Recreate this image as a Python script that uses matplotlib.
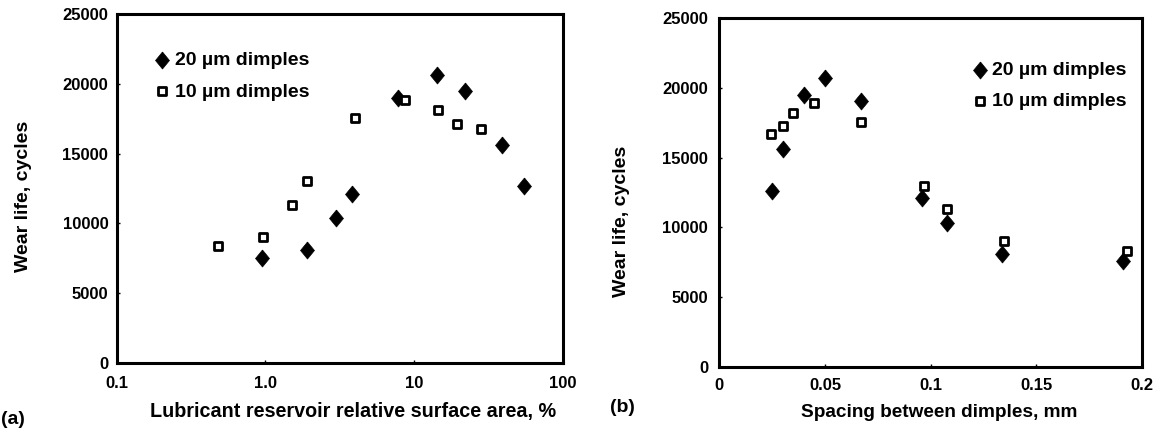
import matplotlib
matplotlib.use("Agg")
import matplotlib.pyplot as plt
from matplotlib.ticker import FixedLocator, FixedFormatter, NullLocator

plt.rcParams['font.family'] = ['Liberation Sans', 'DejaVu Sans']

# panel (a): relative surface area (%) vs wear life
area_20 = [0.95, 1.9, 3.0, 3.8, 7.8, 14.2, 22, 39, 55]
life_a_20 = [7500, 8100, 10400, 12100, 19000, 20600, 19500, 15600, 12700]
area_10 = [0.48, 0.97, 1.5, 1.9, 4.0, 8.7, 14.5, 19.5, 28]
life_a_10 = [8400, 9000, 11300, 13050, 17550, 18850, 18150, 17150, 16750]

# panel (b): spacing (mm) vs wear life
spacing_20 = [0.025, 0.030, 0.040, 0.050, 0.067, 0.096, 0.108, 0.134, 0.191]
life_b_20 = [12600, 15600, 19500, 20700, 19050, 12100, 10300, 8100, 7550]
spacing_10 = [0.0245, 0.030, 0.035, 0.045, 0.067, 0.097, 0.108, 0.135, 0.193]
life_b_10 = [16700, 17250, 18200, 18900, 17550, 13000, 11300, 9000, 8300]

y_ticks = [0, 5000, 10000, 15000, 20000, 25000]
xa_ticks = [0.1, 1.0, 10, 100]
xa_labels = ["0.1", "1.0", "10", "100"]
xb_ticks = [0, 0.05, 0.1, 0.15, 0.2]
xb_labels = ["0", "0.05", "0.1", "0.15", "0.2"]

# slightly tall diamond, like the printed one
diamond = [(0, 1), (0.82, 0), (0, -1), (-0.82, 0), (0, 1)]

fig = plt.figure(figsize=(11.61, 4.32), dpi=100)
ax1 = fig.add_axes([0.1005, 0.1597, 0.3842, 0.808])
ax2 = fig.add_axes([0.6196, 0.1512, 0.3638, 0.8065])


def style(ax, ypad, xpad):
    for s in ax.spines.values():
        s.set_linewidth(2.2)
    ax.set_ylim(0, 25000)
    ax.yaxis.set_major_locator(FixedLocator(y_ticks))
    ax.tick_params(direction='in', length=2, width=1, labelsize=12)
    ax.tick_params(axis='y', pad=ypad)
    ax.tick_params(axis='x', pad=xpad)
    for t in ax.get_xticklabels() + ax.get_yticklabels():
        t.set_fontweight('bold')


def draw(ax, x20, y20, x10, y10, anchor, spacing, textpad):
    ax.scatter(x20, y20, marker=diamond, s=150, c='black', edgecolors='black',
               linewidths=0.5, label="20 µm dimples", zorder=3)
    ax.scatter(x10, y10, marker='s', s=28, facecolors='white', edgecolors='black',
               linewidths=2.0, label="10 µm dimples", zorder=3)
    ax.legend(loc='upper left', bbox_to_anchor=anchor, frameon=False,
              handlelength=1.0, handletextpad=textpad, borderpad=0,
              borderaxespad=0, labelspacing=spacing,
              prop={'size': 14, 'weight': 'bold'})


draw(ax1, area_20, life_a_20, area_10, life_a_10, (0.079, 0.893), 0.72, 0.2)
ax1.set_xscale('log')
ax1.set_xlim(0.1, 100)
ax1.xaxis.set_major_locator(FixedLocator(xa_ticks))
ax1.xaxis.set_major_formatter(FixedFormatter(xa_labels))
ax1.xaxis.set_minor_locator(NullLocator())
style(ax1, 6, 9)
ax1.set_xlabel("Lubricant reservoir relative surface area, %",
               fontsize=14.2, fontweight='bold')
ax1.xaxis.set_label_coords(0.531, -0.112)
ax1.set_ylabel("Wear life, cycles", fontsize=14, fontweight='bold')
ax1.yaxis.set_label_coords(-0.19, 0.476)

draw(ax2, spacing_20, life_b_20, spacing_10, life_b_10, (0.594, 0.876), 0.68, 0.1)
ax2.set_xlim(0, 0.2)
ax2.xaxis.set_major_locator(FixedLocator(xb_ticks))
ax2.xaxis.set_major_formatter(FixedFormatter(xb_labels))
style(ax2, 8, 8)
ax2.set_xlabel("Spacing between dimples, mm", fontsize=13.7, fontweight='bold')
ax2.xaxis.set_label_coords(0.520, -0.108)
ax2.set_ylabel("Wear life, cycles", fontsize=14, fontweight='bold')
ax2.yaxis.set_label_coords(-0.212, 0.418)

fig.text(13 / 1161, 1 - 420 / 432, "(a)", fontsize=14, fontweight='bold',
         ha='center', va='center')
fig.text(622 / 1161, 1 - 408 / 432, "(b)", fontsize=14, fontweight='bold',
         ha='center', va='center')

fig.savefig("out.png", dpi=100)
